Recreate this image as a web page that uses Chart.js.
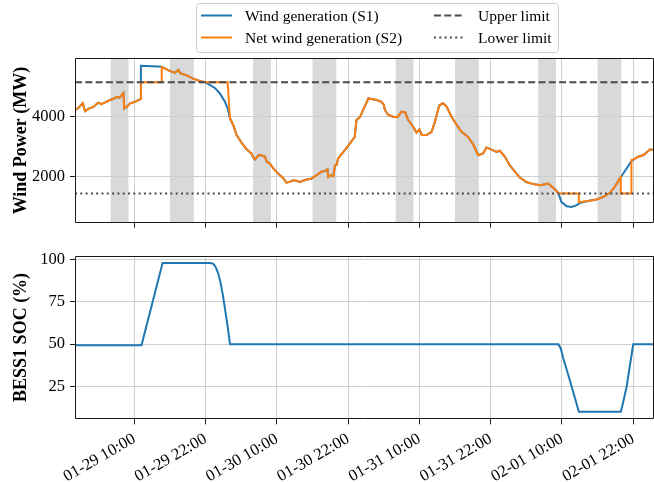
<!DOCTYPE html>
<html>
<head>
<meta charset="utf-8">
<script src="https://cdn.jsdelivr.net/npm/chart.js@4.4.1/dist/chart.umd.min.js"></script>
<style>
  html, body { margin: 0; padding: 0; background: #fff; }
  #wrap { position: relative; width: 654px; height: 482px; overflow: hidden; }
  #wrap canvas { position: absolute; left: 0; }
  #powerChart { top: 0; }
  #socChart { top: 240px; }
</style>
</head>
<body>
<div id="wrap">
  <canvas id="powerChart" width="654" height="240"></canvas>
  <canvas id="socChart" width="654" height="242"></canvas>
</div>
<script>
/* ---- data (x = hours from 01-29 00:00) ---- */
const hours = [
  0.0, 0.6, 1.3, 1.7, 2.4, 3.1, 3.9, 4.4, 5.0, 5.9, 6.5, 7.0, 7.5, 8.0, 8.15, 8.3, 8.7, 9.3, 10.1, 10.9,
  11.1, 11.1, 12.0, 13.0, 14.0, 14.6, 14.6, 15.2, 16.0, 16.8, 17.4, 17.7, 18.8, 19.9, 21.0, 21.9,
  22.7, 23.6, 24.4, 25.25, 25.7, 26.1, 26.65, 27.2, 28.1, 28.9, 29.7, 30.1, 30.3, 30.9, 31.4, 32.0,
  32.3, 32.8, 33.4, 34.2, 35.1, 35.6, 36.2, 36.75, 37.4, 37.9, 38.5, 39.0, 39.8, 40.7, 41.5, 42.1,
  42.5, 42.65, 43.0, 43.5, 43.8, 44.05, 44.3, 45.2, 46.1, 46.9, 47.1, 47.4, 48.0, 48.5, 49.4, 49.95,
  50.8, 51.6, 52.0, 52.2, 52.75, 53.6, 54.3, 55.0, 55.6, 56.1, 56.95, 57.5, 58.0, 58.4, 59.2, 60.05,
  60.6, 61.2, 61.4, 62.0, 62.6, 63.4, 64.3, 65.1, 66.2, 67.1, 67.9, 68.7, 69.3, 70.15, 71.0, 71.55,
  72.4, 73.2, 74.1, 74.9, 76.0, 77.2, 78.3, 79.7, 80.3, 81.0, 81.4, 81.9, 82.8, 83.6, 84.5, 84.85,
  84.85, 85.3, 86.4, 87.8, 88.9, 90.1, 90.9, 91.75, 91.9, 91.9, 93.7, 93.7, 94.1, 94.8, 95.65, 96.2,
  96.8, 97.5
];
const windS1 = [
  4220, 4300, 4450, 4190, 4280, 4330, 4470, 4420, 4470, 4560, 4600, 4660, 4640, 4750, 4790, 4280, 4330, 4450, 4500, 4580,
  4600, 5700, 5690, 5680, 5670, 5665, 5665, 5600, 5530, 5460, 5560, 5450, 5380, 5270, 5190, 5150,
  5060, 4950, 4780, 4500, 4280, 3950, 3720, 3400, 3120, 2920, 2780, 2620, 2580, 2720, 2720, 2670,
  2500, 2450, 2280, 2110, 1950, 1810, 1840, 1890, 1860, 1830, 1880, 1910, 1940, 2060, 2170, 2200,
  2250, 2000, 2050, 2020, 2390, 2400, 2610, 2830, 3060, 3280, 3320, 3890, 4000, 4220, 4610, 4590,
  4560, 4500, 4400, 4220, 4060, 4000, 3990, 4170, 4150, 3890, 3670, 3470, 3580, 3390, 3390, 3500,
  3830, 4280, 4390, 4450, 4330, 4000, 3720, 3500, 3330, 3060, 2720, 2780, 2980, 2910, 2830, 2870,
  2670, 2390, 2170, 1980, 1830, 1760, 1720, 1780, 1670, 1560, 1450, 1170, 1020, 1000, 1060, 1110,
  1110, 1150, 1200, 1250, 1330, 1470, 1670, 1950, 1990, 1990, 2520, 2520, 2580, 2670, 2720, 2800,
  2910, 2900
];
const windS2 = [
  4220, 4300, 4450, 4190, 4280, 4330, 4470, 4420, 4470, 4560, 4600, 4660, 4640, 4750, 4790, 4280, 4330, 4450, 4500, 4580,
  4600, 5150, 5150, 5150, 5150, 5150, 5650, 5600, 5530, 5460, 5560, 5450, 5380, 5270, 5190, 5150,
  5150, 5150, 5150, 5150, 5150, 3950, 3720, 3400, 3120, 2920, 2780, 2620, 2580, 2720, 2720, 2670,
  2500, 2450, 2280, 2110, 1950, 1810, 1840, 1890, 1860, 1830, 1880, 1910, 1940, 2060, 2170, 2200,
  2250, 2000, 2050, 2020, 2390, 2400, 2610, 2830, 3060, 3280, 3320, 3890, 4000, 4220, 4610, 4590,
  4560, 4500, 4400, 4220, 4060, 4000, 3990, 4170, 4150, 3890, 3670, 3470, 3580, 3390, 3390, 3500,
  3830, 4280, 4390, 4450, 4330, 4000, 3720, 3500, 3330, 3060, 2720, 2780, 2980, 2910, 2830, 2870,
  2670, 2390, 2170, 1980, 1830, 1760, 1720, 1780, 1670, 1560, 1450, 1450, 1450, 1450, 1450, 1450,
  1160, 1170, 1200, 1250, 1330, 1470, 1670, 1950, 1990, 1450, 1450, 2560, 2580, 2670, 2720, 2800,
  2910, 2900
];
const upperLimit = 5150;
const lowerLimit = 1450;

// grey shaded periods [start, end] in hours
const peakBands = [[6, 9], [16, 20], [30, 33], [40, 44], [54, 57], [64, 68], [78, 81], [88, 92]];

const socHours = [0, 11.2, 14.75, 22.8, 23.3, 23.7, 24.1, 24.5, 24.9, 25.3, 25.7, 26.1,
                  81.4, 81.8, 82.2, 83.3, 84.85, 91.9, 92.2, 92.9, 94.0, 97.5];
const socValues = [49.4, 49.4, 98, 98, 97.5, 95.5, 92, 86.5, 79, 70, 60.5, 50,
                   50, 47.5, 42, 29, 10, 10, 14, 25, 50, 50];

const tickHours = [10, 22, 34, 46, 58, 70, 82, 94];
const tickLabels = ['01-29 10:00', '01-29 22:00', '01-30 10:00', '01-30 22:00',
                    '01-31 10:00', '01-31 22:00', '02-01 10:00', '02-01 22:00'];
const powerTicks = [2000, 4000];
const socTicks = [25, 50, 75, 100];
const xMin = 0, xMax = 97.5;

/* ---- style ---- */
const SERIF = '"Liberation Serif", "Times New Roman", serif';
const BLUE = '#1f77b4';
const ORANGE = '#ff7f0e';
const LIMIT = '#4a4a4a';
const GRID = '#cfcfcf';
const SPINE = '#1a1a1a';
const TICK_SIZE = 16.5;

Chart.defaults.font.family = SERIF;
Chart.defaults.color = '#000';

/* shaded bands, drawn under the grid */
const bandPlugin = {
  id: 'bands',
  beforeDraw(chart) {
    const { ctx, chartArea: a, scales: { x } } = chart;
    ctx.save();
    ctx.fillStyle = '#d9d9d9';
    for (const [s, e] of peakBands) {
      const x0 = x.getPixelForValue(s), x1 = x.getPixelForValue(e);
      ctx.fillRect(x0, a.top, x1 - x0, a.bottom - a.top);
    }
    ctx.restore();
  }
};

/* matplotlib-like spines */
const framePlugin = {
  id: 'frame',
  afterDraw(chart) {
    const { ctx, chartArea: a } = chart;
    const l = Math.round(a.left) + 0.5, t = Math.round(a.top) + 0.5;
    const b = Math.round(a.bottom) - 0.5, r = Math.round(a.right) - 0.5;
    ctx.save();
    ctx.strokeStyle = SPINE;
    ctx.lineWidth = 1;
    ctx.beginPath();
    ctx.moveTo(r, t); ctx.lineTo(l, t); ctx.lineTo(l, b); ctx.lineTo(r, b); ctx.lineTo(r, t);
    ctx.stroke();
    ctx.restore();
  }
};

/* two-column legend box like matplotlib (ncol=2) */
const legendPlugin = {
  id: 'mplLegend',
  afterDraw(chart) {
    const ctx = chart.ctx;
    const ds = chart.data.datasets;
    const bx = 196.5, by = 3.5, bw = 362, bh = 49, rr = 3;
    ctx.save();
    ctx.beginPath();
    ctx.moveTo(bx + rr, by);
    ctx.arcTo(bx + bw, by, bx + bw, by + bh, rr);
    ctx.arcTo(bx + bw, by + bh, bx, by + bh, rr);
    ctx.arcTo(bx, by + bh, bx, by, rr);
    ctx.arcTo(bx, by, bx + bw, by, rr);
    ctx.closePath();
    ctx.fillStyle = 'rgba(255,255,255,0.8)';
    ctx.fill();
    ctx.strokeStyle = '#cccccc';
    ctx.lineWidth = 1;
    ctx.stroke();

    // column 1: S1, S2 ; column 2: upper, lower
    const entries = [
      [ds[3], 201, 15.5], [ds[2], 201, 37.5],
      [ds[0], 434, 15.5], [ds[1], 434, 37.5]
    ];
    ctx.font = '15.5px ' + SERIF;
    ctx.textBaseline = 'middle';
    ctx.fillStyle = '#000';
    for (const [d, x, y] of entries) {
      ctx.beginPath();
      ctx.strokeStyle = d.borderColor;
      ctx.lineWidth = d.borderWidth;
      ctx.setLineDash(d.borderDash || []);
      ctx.moveTo(x, y);
      ctx.lineTo(x + 31, y);
      ctx.stroke();
      ctx.setLineDash([]);
      ctx.fillText(d.label, x + 44, y + 1);
    }
    ctx.restore();
  }
};

function xAxis(showLabels, height) {
  return {
    type: 'linear',
    min: xMin,
    max: xMax,
    bounds: 'data',
    afterBuildTicks: s => { s.ticks = tickHours.map(v => ({ value: v })); },
    afterFit: s => { s.height = height; },
    grid: { color: GRID, lineWidth: 1, drawTicks: true, tickLength: 5, tickColor: SPINE, tickWidth: 1 },
    border: { display: false },
    ticks: {
      display: showLabels,
      autoSkip: false,
      minRotation: 30,
      maxRotation: 30,
      padding: 5,
      color: '#000',
      font: { size: TICK_SIZE },
      callback: v => { const i = tickHours.indexOf(v); return i >= 0 ? tickLabels[i] : ''; }
    }
  };
}

function yAxis(min, max, tickList, title) {
  return {
    type: 'linear',
    min: min,
    max: max,
    afterBuildTicks: s => { s.ticks = tickList.map(v => ({ value: v })); },
    afterFit: s => { s.width = 75; },
    grid: { color: GRID, lineWidth: 1, drawTicks: true, tickLength: 5, tickColor: SPINE, tickWidth: 1 },
    border: { display: false },
    ticks: { padding: 5, color: '#000', font: { size: TICK_SIZE }, callback: v => String(v) },
    title: {
      display: true,
      text: title,
      color: '#000',
      font: { size: 18, weight: 'bold' },
      padding: { top: 11, bottom: 0 }
    }
  };
}

const lineBase = { pointRadius: 0, tension: 0, fill: false, borderWidth: 2 };

new Chart(document.getElementById('powerChart'), {
  type: 'line',
  data: {
    datasets: [
      { ...lineBase, label: 'Upper limit', borderColor: LIMIT, borderDash: [7, 3.3],
        data: [{ x: xMin, y: upperLimit }, { x: xMax, y: upperLimit }] },
      { ...lineBase, label: 'Lower limit', borderColor: LIMIT, borderDash: [2, 3.3],
        data: [{ x: xMin, y: lowerLimit }, { x: xMax, y: lowerLimit }] },
      { ...lineBase, label: 'Net wind generation (S2)', borderColor: ORANGE,
        data: hours.map((h, i) => ({ x: h, y: windS2[i] })) },
      { ...lineBase, label: 'Wind generation (S1)', borderColor: BLUE,
        data: hours.map((h, i) => ({ x: h, y: windS1[i] })) }
    ]
  },
  options: {
    responsive: false,
    devicePixelRatio: 1,
    animation: false,
    events: [],
    layout: { padding: { top: 58.3, right: 0, bottom: 0, left: 0 } },
    plugins: { legend: { display: false }, tooltip: { enabled: false } },
    scales: {
      x: xAxis(false, 17.3),
      y: yAxis(475, 5947, powerTicks, 'Wind Power (MW)')
    }
  },
  plugins: [bandPlugin, framePlugin, legendPlugin]
});

new Chart(document.getElementById('socChart'), {
  type: 'line',
  data: {
    datasets: [
      { ...lineBase, label: 'BESS1 SOC', borderColor: BLUE,
        data: socHours.map((h, i) => ({ x: h, y: socValues[i] })) }
    ]
  },
  options: {
    responsive: false,
    devicePixelRatio: 1,
    animation: false,
    events: [],
    layout: { padding: { top: 15.5, right: 0, bottom: 0, left: 0 } },
    plugins: { legend: { display: false }, tooltip: { enabled: false } },
    scales: {
      x: xAxis(true, 62.7),
      y: yAxis(5.6, 102.4, socTicks, 'BESS1 SOC (%)')
    }
  },
  plugins: [framePlugin]
});
</script>
</body>
</html>
